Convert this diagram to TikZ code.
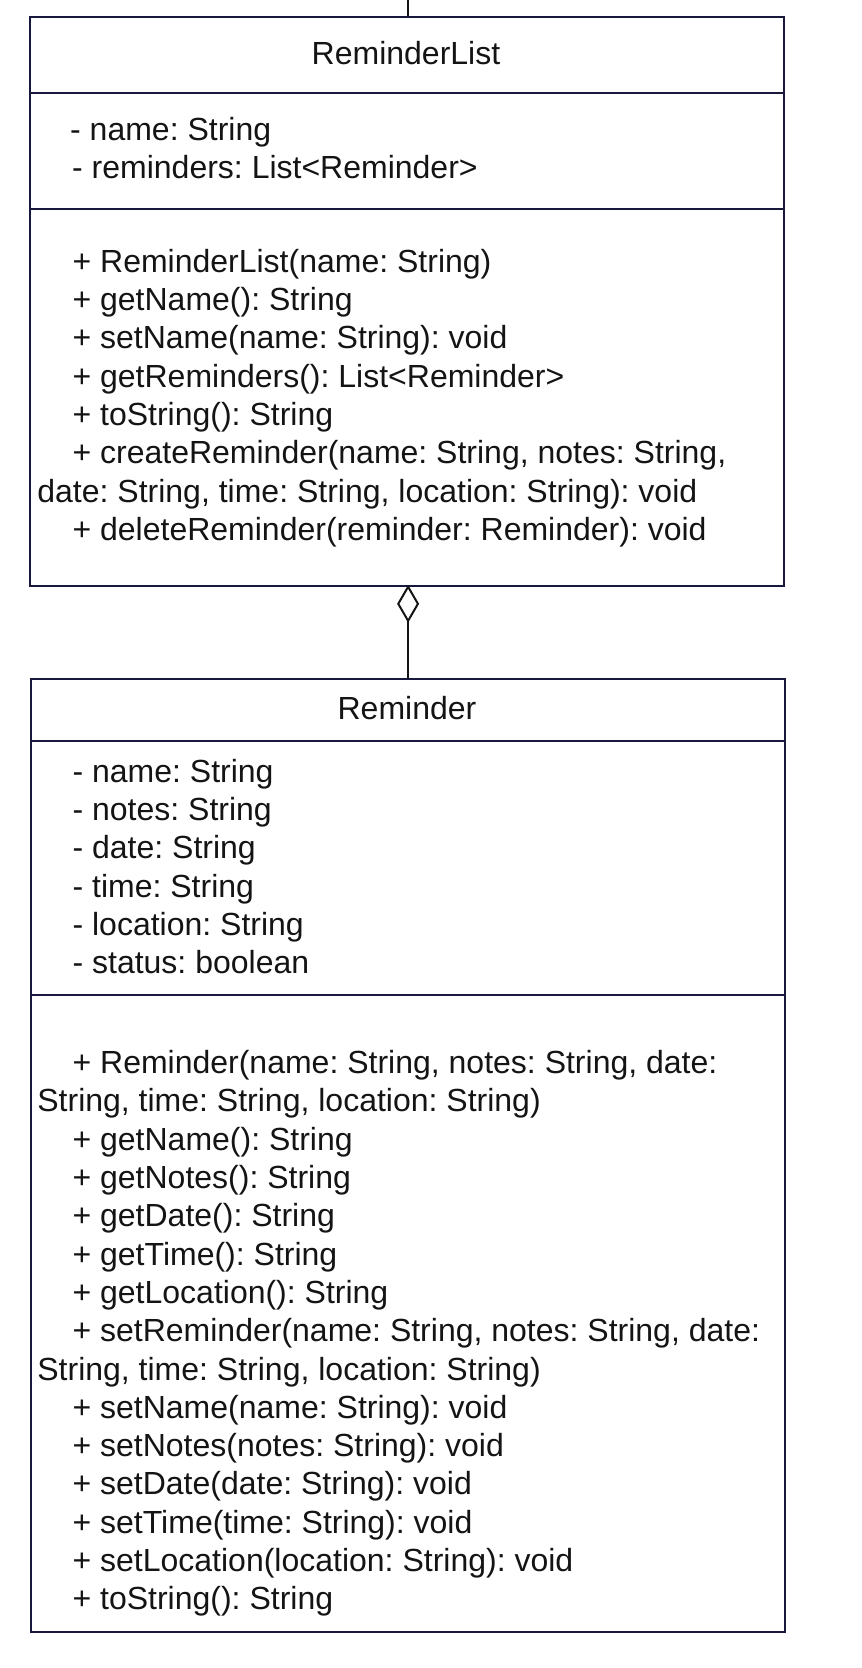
\documentclass[tikz,border=0pt]{standalone}
\usepackage{fontspec}
\setmainfont{Liberation Sans}
\usetikzlibrary{arrows.meta}
\definecolor{boxc}{RGB}{24,24,60}
\definecolor{txt}{RGB}{20,20,20}
\frenchspacing
\begin{document}
\begin{tikzpicture}[x=1pt,y=1pt,
 comp/.style={draw=boxc,line width=2pt,rectangle,inner sep=0pt,anchor=north west,minimum width=754.6pt},
 lbl/.style={inner sep=0pt,anchor=base west,text=txt,font=\fontsize{32}{38.3}\selectfont\frenchspacing,yshift=-3.6pt},
 ttl/.style={lbl,anchor=base},
 conn/.style={draw=txt,line width=2pt}]
\useasboundingbox (0,0) rectangle (862,-1668);
% ReminderList
\node[comp,minimum height=75.5pt] (rlh) at (28.7,-16) {};
\node[comp,minimum height=116pt] (rla) at (28.7,-91.5) {};
\node[comp,minimum height=377.8pt] (rlm) at (28.7,-207.5) {};
\node[ttl] (rlt) at (406,-61.2) {ReminderList};
\node[lbl] (rla1) at (70,-136.8) {- name: String};
\node[lbl] (rla2) at (72,-175.1) {- reminders: List<Reminder>};
\node[lbl] (rlm1) at (72.4,-268.7) {+ ReminderList(name: String)};
\node[lbl] (rlm2) at (72.4,-307.0) {+ getName(): String};
\node[lbl] (rlm3) at (72.4,-345.3) {+ setName(name: String): void};
\node[lbl] (rlm4) at (72.4,-383.6) {+ getReminders(): List<Reminder>};
\node[lbl] (rlm5) at (72.4,-421.9) {+ toString(): String};
\node[lbl] (rlm6) at (72.4,-460.2) {+ createReminder(name: String, notes: String,};
\node[lbl] (rlm7) at (37.2,-498.5) {date: String, time: String, location: String): void};
\node[lbl] (rlm8) at (72.4,-536.8) {+ deleteReminder(reminder: Reminder): void};
% Reminder
\node[comp,minimum height=61.7pt] (remh) at (29.8,-677.9) {};
\node[comp,minimum height=254.4pt] (rema) at (29.8,-739.6) {};
\node[comp,minimum height=637.4pt] (remm) at (29.8,-994) {};
\node[ttl] (remt) at (407,-715.7) {Reminder};
\node[lbl] (rema1) at (72.4,-778.5) {- name: String};
\node[lbl] (rema2) at (72.4,-816.8) {- notes: String};
\node[lbl] (rema3) at (72.4,-855.1) {- date: String};
\node[lbl] (rema4) at (72.4,-893.4) {- time: String};
\node[lbl] (rema5) at (72.4,-931.7) {- location: String};
\node[lbl] (rema6) at (72.4,-970.0) {- status: boolean};
\node[lbl] (remm1) at (72.4,-1070.0) {+ Reminder(name: String, notes: String, date:};
\node[lbl] (remm2) at (37.2,-1108.3) {String, time: String, location: String)};
\node[lbl] (remm3) at (72.4,-1146.6) {+ getName(): String};
\node[lbl] (remm4) at (72.4,-1184.9) {+ getNotes(): String};
\node[lbl] (remm5) at (72.4,-1223.2) {+ getDate(): String};
\node[lbl] (remm6) at (72.4,-1261.5) {+ getTime(): String};
\node[lbl] (remm7) at (72.4,-1299.8) {+ getLocation(): String};
\node[lbl] (remm8) at (72.4,-1338.1) {+ setReminder(name: String, notes: String, date:};
\node[lbl] (remm9) at (37.2,-1376.4) {String, time: String, location: String)};
\node[lbl] (remm10) at (72.4,-1414.7) {+ setName(name: String): void};
\node[lbl] (remm11) at (72.4,-1453.0) {+ setNotes(notes: String): void};
\node[lbl] (remm12) at (72.4,-1491.3) {+ setDate(date: String): void};
\node[lbl] (remm13) at (72.4,-1529.6) {+ setTime(time: String): void};
\node[lbl] (remm14) at (72.4,-1567.9) {+ setLocation(location: String): void};
\node[lbl] (remm15) at (72.4,-1606.2) {+ toString(): String};
% connectors
\coordinate (topend) at (408,0);
\draw[conn] (topend) -- (topend |- rlh.north);
\draw[conn,shorten >=-2.5pt,-{Diamond[open,length=38pt,width=22pt,line width=2pt]}] (remh.north) -- (remh.north |- rlm.south);
\end{tikzpicture}
\end{document}
